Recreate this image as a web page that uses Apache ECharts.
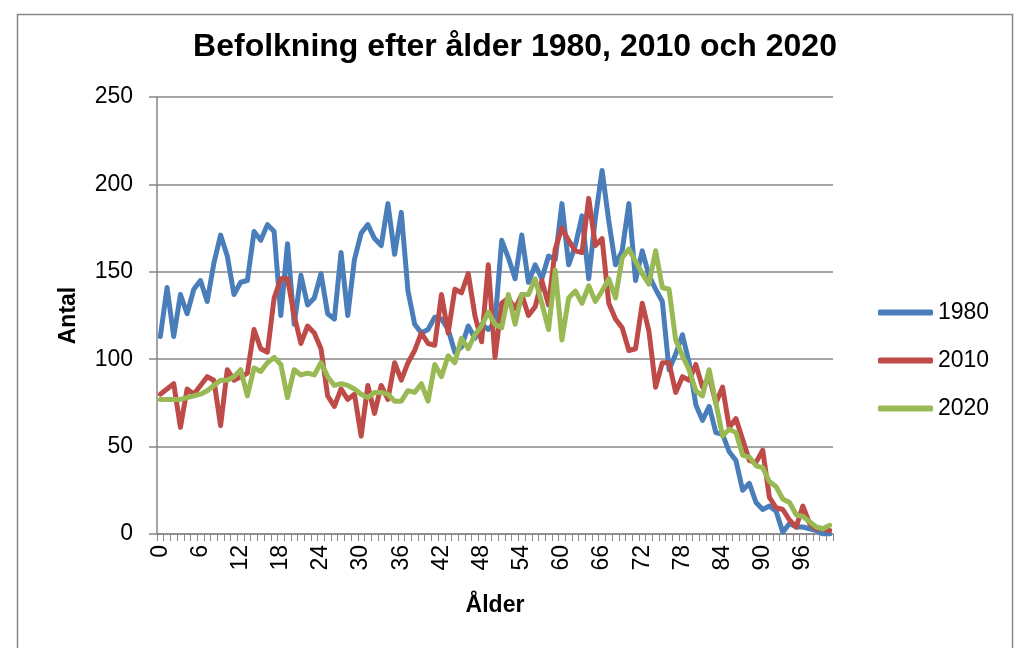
<!DOCTYPE html>
<html>
<head>
<meta charset="utf-8">
<script src="https://cdn.jsdelivr.net/npm/echarts@6/dist/echarts.min.js"></script>
<style>
html,body{margin:0;padding:0;background:#fff;}
#c{width:1016px;height:648px;}
</style>
</head>
<body>
<div id="c"></div>
<script>
var ages = [];
for (var a = 0; a <= 100; a++) ages.push(String(a));

var title = 'Befolkning efter ålder 1980, 2010 och 2020';
var seriesNames = ['1980', '2010', '2020'];

var v1980 = [113,141,113,137,126,140,145,133,155,171,159,137,144,145,173,168,177,173,125,166,
  120,148,131,135,149,126,123,161,125,157,172,177,169,165,189,160,184,139,120,115,
  117,124,123,117,104,107,119,112,120,117,121,168,158,146,171,144,154,146,159,157,
  189,154,165,182,146,181,208,179,154,162,189,145,162,148,140,133,94,103,114,98,
  74,65,73,58,57,47,42,25,29,18,14,16,13,1,6,4,4,3,2,0,0];

var v2010 = [80,83,86,61,83,80,85,90,88,62,94,88,90,92,117,106,104,135,146,146,
  125,109,119,115,106,79,73,83,77,80,56,85,69,85,77,98,88,98,105,115,
  109,108,137,115,140,138,149,125,110,154,101,132,135,129,137,125,130,145,131,163,
  175,168,162,161,192,165,169,132,123,118,105,106,132,116,84,98,98,81,90,88,
  97,84,90,75,84,61,66,54,42,41,48,21,15,14,8,4,16,6,3,3,2];

var v2020 = [77,77,77,77,78,79,80,82,85,88,88,90,94,79,95,93,98,101,97,78,
  94,91,92,91,98,90,85,86,85,83,80,78,81,81,80,76,76,82,81,86,
  76,97,90,102,98,112,106,114,119,127,120,118,137,120,137,137,146,132,117,151,
  111,135,139,132,142,133,139,146,135,158,163,156,149,143,162,141,140,111,102,94,
  82,79,94,75,56,60,58,45,44,39,38,30,27,20,18,11,10,7,4,3,5];

var colors = ['#4A7EBB', '#BE4B48', '#98B954'];
var font = 'Liberation Sans, Arial, sans-serif';
var gray = '#868686';

var chart = echarts.init(document.getElementById('c'), null, {renderer: 'canvas'});

function mkSeries(name, data, color) {
  return {
    name: name, type: 'line', data: data, showSymbol: false, symbol: 'none',
    lineStyle: {color: color, width: 5, join: 'round', cap: 'round'},
    itemStyle: {color: color},
    animation: false
  };
}

chart.setOption({
  animation: false,
  backgroundColor: '#ffffff',
  graphic: [{
    type: 'rect', silent: true,
    shape: {x: 17.5, y: 14.5, width: 995, height: 700},
    style: {fill: 'none', stroke: gray, lineWidth: 1.5}
  }],
  title: {
    text: title, left: 510, top: 26, textAlign: 'center',
    textStyle: {fontFamily: font, fontWeight: 'bold', fontSize: 32, color: '#000'}
  },
  legend: {
    orient: 'vertical', left: 873, top: 296, itemGap: 25,
    itemWidth: 55, itemHeight: 6, icon: 'roundRect',
    textStyle: {fontFamily: font, fontSize: 23, color: '#000'},
    data: seriesNames
  },
  grid: {left: 157, right: 183, top: 97, bottom: 114, containLabel: false},
  xAxis: {
    type: 'category', data: ages, boundaryGap: true,
    name: 'Ålder', nameLocation: 'middle', nameGap: 60,
    nameTextStyle: {fontFamily: font, fontWeight: 'bold', fontSize: 23, color: '#000'},
    axisLine: {lineStyle: {color: gray, width: 1.5}},
    axisTick: {show: true, interval: 0, length: 7, lineStyle: {color: gray, width: 1}},
    axisLabel: {interval: 5, rotate: 90, margin: 11, fontFamily: font, fontSize: 23, color: '#000'},
    splitLine: {show: false}
  },
  yAxis: {
    type: 'value', min: 0, max: 250, interval: 50,
    name: 'Antal', nameLocation: 'middle', nameGap: 77, nameRotate: 90,
    nameTextStyle: {fontFamily: font, fontWeight: 'bold', fontSize: 23, color: '#000'},
    axisLine: {show: true, lineStyle: {color: gray, width: 1.5}},
    axisTick: {show: true, length: 8, lineStyle: {color: gray, width: 1.5}},
    axisLabel: {margin: 24, fontFamily: font, fontSize: 23, color: '#000'},
    splitLine: {show: true, lineStyle: {color: gray, width: 1.5}}
  },
  series: [
    mkSeries(seriesNames[0], v1980, colors[0]),
    mkSeries(seriesNames[1], v2010, colors[1]),
    mkSeries(seriesNames[2], v2020, colors[2])
  ]
});
</script>
</body>
</html>
